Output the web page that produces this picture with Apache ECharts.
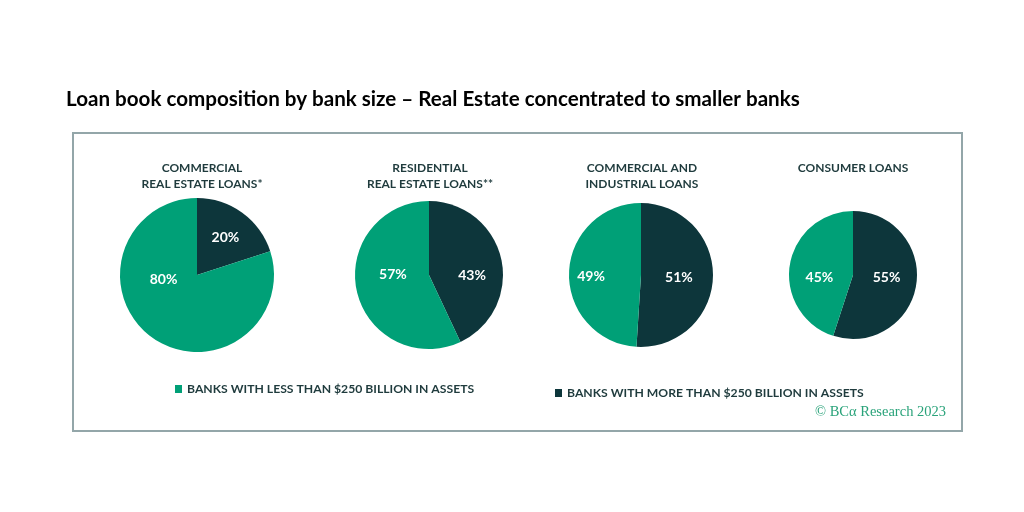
<!DOCTYPE html>
<html>
<head>
    <meta charset="utf-8">
    <script src="https://cdn.jsdelivr.net/npm/echarts@6/dist/echarts.min.js"></script>
    <style>
        html, body { margin: 0; padding: 0; background: #fff; }
        #main { width: 1024px; height: 512px; }
    </style>
</head>
<body>
<div id="main"></div>
<script type="text/javascript">
    // data
    var categories = ['BANKS WITH LESS THAN $250 BILLION IN ASSETS', 'BANKS WITH MORE THAN $250 BILLION IN ASSETS'];
    var pieTitles = ['COMMERCIAL\nREAL ESTATE LOANS*', 'RESIDENTIAL\nREAL ESTATE LOANS**', 'COMMERCIAL AND\nINDUSTRIAL LOANS', 'CONSUMER LOANS'];
    var smallBanks = [80, 57, 49, 45];
    var largeBanks = [20, 43, 51, 55];

    // layout
    var centersX = [197, 429, 641, 853];
    var titlesX = [202, 430, 642, 853];
    var radii = [77, 74, 72, 64];
    var centerY = 275;
    // nudges for the % labels, [dark, green] per pie
    var labelShift = [
        [[4, -4], [-9, -29]],
        [[4, 9], [3, -9]],
        [[-1, 1], [-11, 3]],
        [[-1, -3], [1, 8]]
    ];

    var green = '#00a077';
    var dark = '#0d363b';
    var font = 'Lato';

    var myChart = echarts.init(document.getElementById('main'));

    var titles = [{
        text: 'Loan book composition by bank size \u2013 Real Estate concentrated to smaller banks',
        left: 66,
        top: 89,
        padding: 0,
        textStyle: { fontFamily: font, fontWeight: 'bold', fontSize: 20.6, color: '#000' }
    }];
    var series = [];
    pieTitles.forEach(function (t, i) {
        titles.push({
            text: t,
            left: titlesX[i],
            top: 160,
            padding: 0,
            textAlign: 'center',
            textStyle: { fontFamily: font, fontWeight: 'bold', fontSize: 12, lineHeight: 16, color: '#1f3b3d' }
        });
        series.push({
            type: 'pie',
            center: [centersX[i], centerY],
            radius: [0, radii[i]],
            startAngle: 90,
            clockwise: true,
            silent: true,
            label: {
                show: true,
                position: 'inner',
                formatter: '{c}%',
                color: '#fff',
                fontFamily: font,
                fontWeight: 'bold',
                fontSize: 14
            },
            labelLine: { show: false },
            labelLayout: function (params) {
                var s = labelShift[i][params.dataIndex];
                return { dx: s[0], dy: s[1] };
            },
            data: [
                { name: categories[1], value: largeBanks[i], itemStyle: { color: dark } },
                { name: categories[0], value: smallBanks[i], itemStyle: { color: green } }
            ]
        });
    });

    var legendText = { fontFamily: font, fontWeight: 'bold', fontSize: 12.2, color: '#1f3b3d' };

    option = {
        animation: false,
        title: titles,
        legend: [
            { data: [categories[0]], left: 175, top: 383, icon: 'rect', itemWidth: 7, itemHeight: 8, padding: 0, textStyle: legendText, selectedMode: false },
            { data: [categories[1]], left: 555, top: 387, icon: 'rect', itemWidth: 7, itemHeight: 8, padding: 0, textStyle: legendText, selectedMode: false }
        ],
        graphic: [
            {
                type: 'rect',
                shape: { x: 73, y: 133, width: 889, height: 298 },
                style: { fill: 'none', stroke: '#93a6a9', lineWidth: 2 },
                silent: true
            },
            {
                type: 'text',
                x: 946,
                y: 412,
                style: {
                    text: '\u00a9 BC\u03b1 Research 2023',
                    fill: '#2aa37a',
                    font: '14.5px "Liberation Serif"',
                    textAlign: 'right',
                    textVerticalAlign: 'middle'
                },
                silent: true
            }
        ],
        series: series
    };

    myChart.setOption(option);
</script>
</body>
</html>
